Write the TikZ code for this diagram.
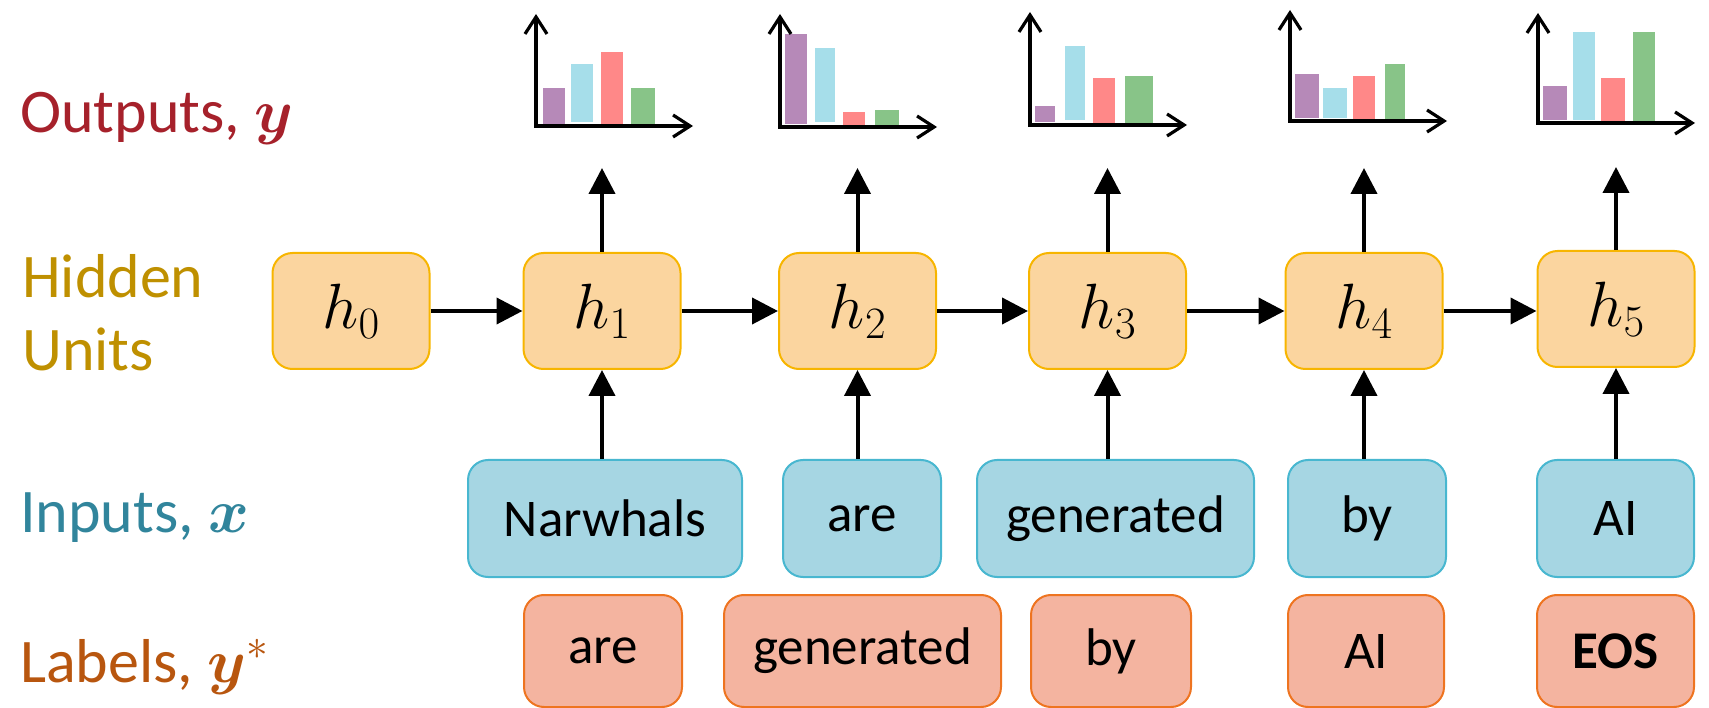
\RequirePackage{fix-cm}
\documentclass[tikz,border=0pt]{standalone}
\usepackage{fontspec}
\setmainfont{Carlito}
\usepackage{bm}
\usetikzlibrary{arrows.meta}

\definecolor{outc}{HTML}{A6212B}
\definecolor{hidc}{HTML}{BF9000}
\definecolor{inc}{HTML}{31859C}
\definecolor{labc}{HTML}{B8560F}
\definecolor{hfill}{HTML}{FBD59F}
\definecolor{hline}{HTML}{F7B500}
\definecolor{ifill}{HTML}{A6D6E3}
\definecolor{iline}{HTML}{48B7D0}
\definecolor{lfill}{HTML}{F4B4A0}
\definecolor{lline}{HTML}{EE7420}
\definecolor{barp}{HTML}{B689B8}
\definecolor{barc}{HTML}{A6DEEA}
\definecolor{barr}{HTML}{FF8888}
\definecolor{barg}{HTML}{88C488}

\begin{document}
\begin{tikzpicture}[x=1pt,y=-1pt,
  rowlabel/.style={anchor=base west, inner sep=0pt, font=\fontsize{62}{73}\selectfont, align=left},
  box/.style={rounded corners=20pt, line width=2pt, inner sep=0pt},
  hidbox/.style={box, draw=hline, fill=hfill, minimum width=157pt, minimum height=116pt,
                 font=\fontsize{64}{64}\selectfont},
  inbox/.style={box, draw=iline, fill=ifill, minimum height=117pt,
                font=\fontsize{53}{53}\selectfont},
  labbox/.style={box, draw=lline, fill=lfill, minimum height=112pt,
                 font=\fontsize{53}{53}\selectfont},
  flow/.style={line width=4pt, -{Triangle[length=26pt,width=26pt]}},
  axes/.style={line width=3.2pt, line cap=round,
               {Straight Barb[length=17pt,width=22pt]}-{Straight Barb[length=17pt,width=22pt]}},
]
\useasboundingbox (0,0) rectangle (1709,708);

% row titles
\node[rowlabel, text=outc] (tout) at (20,133) {Outputs, $\bm{y}$};
\node[rowlabel, text=hidc] (thid) at (22,371) {Hidden\\Units};
\node[rowlabel, text=inc]  (tin)  at (20,532) {Inputs, $\bm{x}$};
\node[rowlabel, text=labc] (tlab) at (20,682) {Labels, $\bm{y}^{*}$};

% hidden units
\node[hidbox] (h0) at (351,311)  {$h_0$};
\node[hidbox] (h1) at (602,311)  {$h_1$};
\node[hidbox] (h2) at (857.5,311) {$h_2$};
\node[hidbox] (h3) at (1107.5,311) {$h_3$};
\node[hidbox] (h4) at (1364,311) {$h_4$};
\node[hidbox] (h5) at (1616,309) {$h_5$};

% input tokens
\node[inbox, minimum width=274pt] (x1) at (605,518.5)    {Narwhals};
\node[inbox, minimum width=158pt] (x2) at (862,518.5)    {are};
\node[inbox, minimum width=277pt] (x3) at (1115.5,518.5) {generated};
\node[inbox, minimum width=158pt] (x4) at (1367,518.5)   {by};
\node[inbox, minimum width=157pt] (x5) at (1615.5,518.5) {AI};

% target tokens
\node[labbox, minimum width=158pt] (y1) at (603,651)    {are};
\node[labbox, minimum width=277pt] (y2) at (862.5,651)  {generated};
\node[labbox, minimum width=160pt] (y3) at (1111,651)   {by};
\node[labbox, minimum width=156pt] (y4) at (1366,651)   {AI};
\node[labbox, minimum width=157pt] (y5) at (1615.5,651) {\textbf{EOS}};

% recurrence
\draw[flow] (h0.east) -- (h1.west);
\draw[flow] (h1.east) -- (h2.west);
\draw[flow] (h2.east) -- (h3.west);
\draw[flow] (h3.east) -- (h4.west);
\draw[flow] (h4.east) -- (h5.west |- h4.east);

% inputs feed the hidden units
\draw[flow] (x1.north -| h1) -- (h1.south);
\draw[flow] (x2.north -| h2) -- (h2.south);
\draw[flow] (x3.north -| h3) -- (h3.south);
\draw[flow] (x4.north -| h4) -- (h4.south);
\draw[flow] (x5.north -| h5) -- (h5.south);

% hidden units produce outputs
\coordinate (o1) at (602,168);
\coordinate (o2) at (857.5,168);
\coordinate (o3) at (1107.5,168);
\coordinate (o4) at (1364,168);
\coordinate (o5) at (1616,167);
\draw[flow] (h1.north) -- (o1);
\draw[flow] (h2.north) -- (o2);
\draw[flow] (h3.north) -- (o3);
\draw[flow] (h4.north) -- (o4);
\draw[flow] (h5.north) -- (o5);

% output distributions
% chart 1
\fill[barp] (543,88) rectangle (565,124);
\fill[barc] (571,64) rectangle (593,122);
\fill[barr] (601,52) rectangle (623,126);
\fill[barg] (631,88) rectangle (655,126);
\draw[axes] (536,14) -- (536,126) -- (693,126);
% chart 2
\fill[barp] (785,34) rectangle (807,124);
\fill[barc] (815,48) rectangle (835,122);
\fill[barr] (843,112) rectangle (865,126);
\fill[barg] (875,110) rectangle (899,126);
\draw[axes] (780,14) -- (780,127) -- (937,127);
% chart 3
\fill[barp] (1035,106) rectangle (1055,122);
\fill[barc] (1065,46) rectangle (1085,120);
\fill[barr] (1093,78) rectangle (1115,124);
\fill[barg] (1125,76) rectangle (1153,124);
\draw[axes] (1030,12) -- (1030,125) -- (1187,125);
% chart 4
\fill[barp] (1295,74) rectangle (1319,118);
\fill[barc] (1323,88) rectangle (1347,118);
\fill[barr] (1353,76) rectangle (1375,122);
\fill[barg] (1385,64) rectangle (1405,120);
\draw[axes] (1290,10) -- (1290,121) -- (1447,121);
% chart 5
\fill[barp] (1543,86) rectangle (1567,120);
\fill[barc] (1573,32) rectangle (1595,120);
\fill[barr] (1601,78) rectangle (1625,124);
\fill[barg] (1633,32) rectangle (1655,124);
\draw[axes] (1538,13) -- (1538,123) -- (1695,123);
\end{tikzpicture}
\end{document}
